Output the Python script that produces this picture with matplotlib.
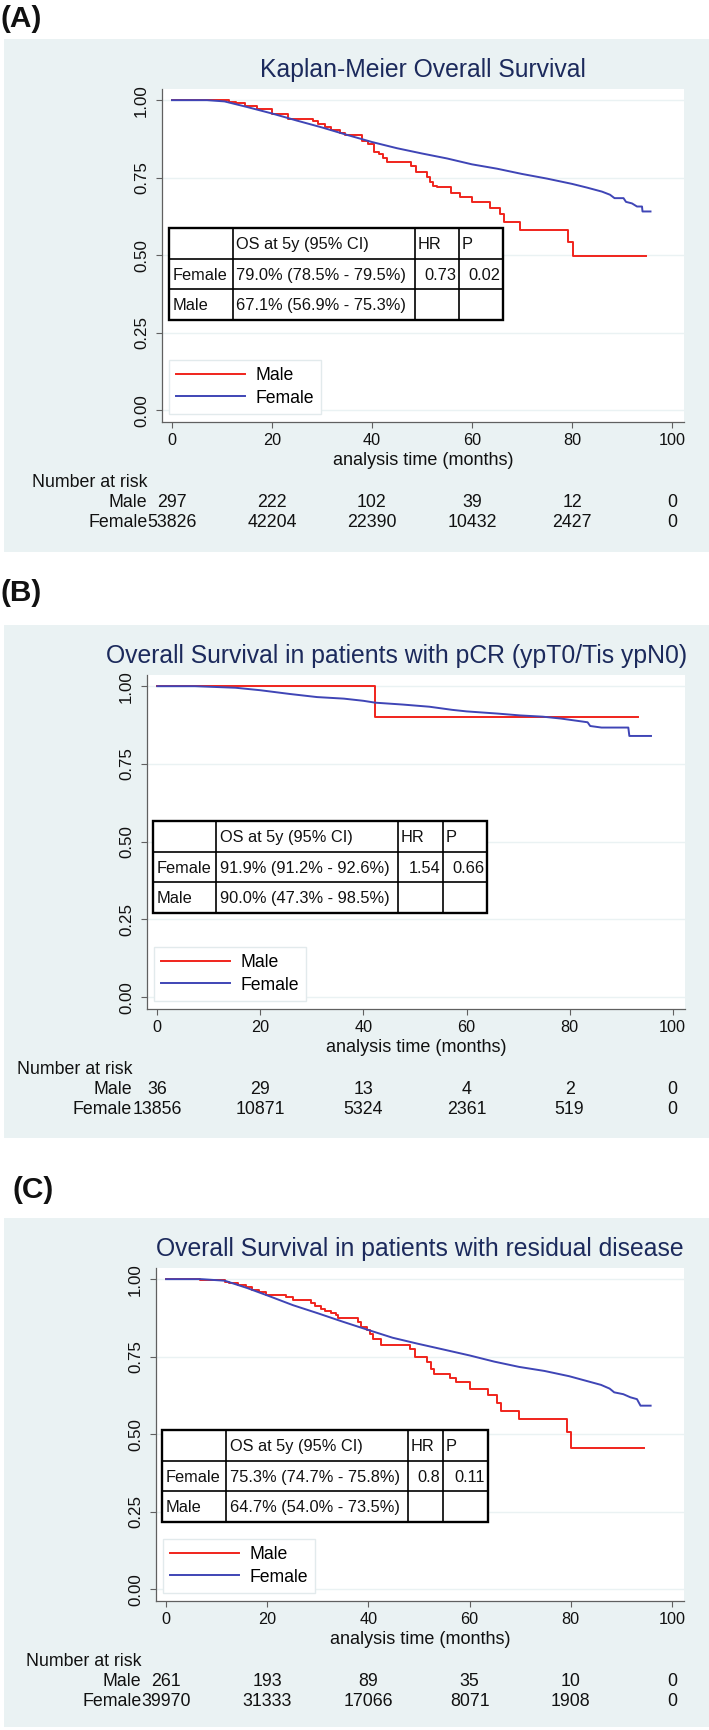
import matplotlib
matplotlib.use("Agg")
import matplotlib.pyplot as plt
from matplotlib.patches import Rectangle
from matplotlib.lines import Line2D

plt.rcParams['font.family'] = ['Liberation Sans', 'DejaVu Sans']

# ---------------- data ----------------
x_ticks = [0, 20, 40, 60, 80, 100]
y_ticks = [0.0, 0.25, 0.5, 0.75, 1.0]

# (A) all patients
male_t_a = [0, 11.4, 12.8, 14.6, 16.9, 20.0, 23.2, 28.2, 29.1, 30.5, 31.8, 33.6, 34.5,
            38.0, 39.1, 40.3, 41.3, 42.1, 43.0, 47.7, 48.8, 50.9, 51.6, 52.2, 52.9,
            55.8, 57.5, 59.9, 63.6, 65.6, 66.3, 69.6, 79.2, 80.1, 94.7]
male_s_a = [1.0, 0.995, 0.99, 0.982, 0.97, 0.955, 0.940, 0.932, 0.922, 0.913, 0.905, 0.895, 0.888,
            0.868, 0.857, 0.834, 0.826, 0.813, 0.800, 0.788, 0.767, 0.753, 0.736, 0.724, 0.719,
            0.701, 0.687, 0.670, 0.653, 0.632, 0.607, 0.582, 0.542, 0.498, 0.498]
female_t_a = [0, 7, 10.5, 15, 20, 25, 30, 35, 40, 45, 50, 55, 60, 65, 70, 75, 80, 83, 86,
              87.6, 88.5, 90.3, 90.8, 92, 93, 94, 94.1, 95.7]
female_s_a = [1.0, 1.0, 0.996, 0.978, 0.957, 0.934, 0.912, 0.888, 0.865, 0.845, 0.828, 0.812,
              0.793, 0.779, 0.762, 0.747, 0.730, 0.718, 0.705, 0.695, 0.684, 0.684, 0.672,
              0.667, 0.657, 0.657, 0.641, 0.641]
risk_male_a = [297, 222, 102, 39, 12, 0]
risk_female_a = [53826, 42204, 22390, 10432, 2427, 0]
table_a = [["", "OS at 5y (95% CI)", "HR", "P"],
           ["Female", "79.0% (78.5% - 79.5%)", "0.73", "0.02"],
           ["Male", "67.1% (56.9% - 75.3%)", "", ""]]

# (B) pCR
male_t_b = [0, 42.2, 93.2]
male_s_b = [1.0, 0.90, 0.90]
female_t_b = [0, 7.3, 15.2, 20, 25.7, 31, 36.2, 40, 42.3, 47.6, 52.8, 57.2, 60, 66, 70.4,
              74.8, 78.3, 80.9, 83.5, 84, 86.2, 91.4, 91.6, 95.8]
female_s_b = [1.0, 1.0, 0.995, 0.987, 0.975, 0.965, 0.960, 0.953, 0.947, 0.941, 0.934, 0.924,
              0.919, 0.912, 0.906, 0.902, 0.896, 0.890, 0.884, 0.872, 0.867, 0.867, 0.840, 0.840]
risk_male_b = [36, 29, 13, 4, 2, 0]
risk_female_b = [13856, 10871, 5324, 2361, 519, 0]
table_b = [["", "OS at 5y (95% CI)", "HR", "P"],
           ["Female", "91.9% (91.2% - 92.6%)", "1.54", "0.66"],
           ["Male", "90.0% (47.3% - 98.5%)", "", ""]]

# (C) residual disease
male_t_c = [0, 6.7, 11.6, 12.5, 14.3, 15.7, 17.0, 18.4, 19.7, 23.7, 25.1, 28.6, 29.5, 30.6,
            31.5, 32.7, 33.6, 34.0, 38.0, 38.5, 39.8, 40.3, 41.0, 42.5, 48.3, 49.2, 51.5,
            52.4, 53.0, 56.2, 57.3, 60.0, 63.6, 65.4, 66.2, 69.7, 79.2, 80.1, 94.4]
male_s_c = [1.0, 0.996, 0.991, 0.987, 0.981, 0.975, 0.966, 0.957, 0.950, 0.941, 0.933, 0.924,
            0.914, 0.905, 0.896, 0.890, 0.884, 0.874, 0.862, 0.847, 0.835, 0.823, 0.807, 0.789,
            0.774, 0.750, 0.734, 0.710, 0.695, 0.681, 0.667, 0.647, 0.625, 0.601, 0.576,
            0.550, 0.507, 0.456, 0.456]
female_t_c = [0, 7, 11.6, 16.1, 20.1, 25.1, 30, 34.9, 39.8, 44.8, 49.7, 54.6, 60, 64.9, 69.8,
              74.8, 79.7, 83.3, 86, 87.7, 88.6, 90.4, 91.8, 93.1, 93.8, 95.8]
female_s_c = [1.0, 1.0, 0.995, 0.971, 0.947, 0.916, 0.890, 0.863, 0.837, 0.811, 0.792, 0.774,
              0.754, 0.734, 0.717, 0.704, 0.687, 0.671, 0.659, 0.647, 0.635, 0.629, 0.619,
              0.613, 0.592, 0.592]
risk_male_c = [261, 193, 89, 35, 10, 0]
risk_female_c = [39970, 31333, 17066, 8071, 1908, 0]
table_c = [["", "OS at 5y (95% CI)", "HR", "P"],
           ["Female", "75.3% (74.7% - 75.8%)", "0.8", "0.11"],
           ["Male", "64.7% (54.0% - 73.5%)", "", ""]]

titles = ["Kaplan-Meier Overall Survival",
          "Overall Survival in patients with pCR (ypT0/Tis ypN0)",
          "Overall Survival in patients with residual disease"]
panel_labels = ["(A)", "(B)", "(C)"]

# ---------------- layout (pixels, origin top-left) ----------------
W, H = 709, 1730
BG = '#eaf2f3'
RED = '#f0241c'
BLUE = '#3f45b6'
NAVY = '#1c2a5c'
AXC = '#606060'

panels = [
    dict(bg=(4, 39, 709, 552), lab=(0, 19), ax=(162, 89, 684, 422),
         tab=(169, 228), cols=[64, 182, 44, 44], title_ha='center'),
    dict(bg=(4, 625, 709, 1138), lab=(0, 593), ax=(147, 675, 685, 1009),
         tab=(153, 821), cols=[63, 182, 45, 44], title_ha='right'),
    dict(bg=(4, 1218, 709, 1727), lab=(12, 1190), ax=(156, 1268, 684, 1601),
         tab=(162, 1430), cols=[64, 182, 35, 45], title_ha='center'),
]
series = [
    (male_t_a, male_s_a, female_t_a, female_s_a, risk_male_a, risk_female_a, table_a),
    (male_t_b, male_s_b, female_t_b, female_s_b, risk_male_b, risk_female_b, table_b),
    (male_t_c, male_s_c, female_t_c, female_s_c, risk_male_c, risk_female_c, table_c),
]


def fx(x):
    return x / W


def fy(y):
    return 1 - y / H


def draw_table(fig, left, top, cols, rows, row_h=30.7):
    total_w = sum(cols)
    total_h = row_h * len(rows)
    fig.add_artist(Rectangle((fx(left), fy(top + total_h)), total_w / W, total_h / H,
                             transform=fig.transFigure, facecolor='white',
                             edgecolor='black', lw=1.7, zorder=5))
    edges = [left]
    for c in cols:
        edges.append(edges[-1] + c)
    for e in edges[1:-1]:
        fig.add_artist(Line2D([fx(e), fx(e)], [fy(top), fy(top + total_h)],
                              transform=fig.transFigure, color='black', lw=1.2, zorder=6))
    for r in range(1, len(rows)):
        yy = top + r * row_h
        fig.add_artist(Line2D([fx(left), fx(left + total_w)], [fy(yy), fy(yy)],
                              transform=fig.transFigure, color='black', lw=1.2, zorder=6))
    for r, row in enumerate(rows):
        yc = top + r * row_h + row_h / 2 + 1
        for c, txt in enumerate(row):
            if not txt:
                continue
            if r > 0 and c >= 2:
                fig.text(fx(edges[c + 1] - 3), fy(yc), txt, ha='right', va='center',
                         fontsize=11.8, color='#111111', zorder=7)
            else:
                pad = 2.5 if c >= 2 else 3.5
                fig.text(fx(edges[c] + pad), fy(yc), txt, ha='left', va='center',
                         fontsize=11.8, color='#111111', zorder=7)


fig = plt.figure(figsize=(W / 100, H / 100), dpi=100)

for p, (mt, ms, ft, fs, rm, rf, tab), title, lab in zip(panels, series, titles, panel_labels):
    x0, y0, x1, y1 = p['bg']
    fig.add_artist(Rectangle((fx(x0), fy(y1)), (x1 - x0) / W, (y1 - y0) / H,
                             transform=fig.transFigure, facecolor=BG, edgecolor='none',
                             zorder=-1))
    fig.text(fx(p['lab'][0]), fy(p['lab'][1]), lab, ha='left', va='center',
             fontsize=21.5, fontweight='bold', color='#111111')

    l, t, r, b = p['ax']
    ax = fig.add_axes([fx(l), fy(b), (r - l) / W, (b - t) / H])
    ax.set_facecolor('white')
    h_m, = ax.plot(mt, ms, drawstyle='steps-post', color=RED, lw=1.4)
    h_f, = ax.plot(ft, fs, color=BLUE, lw=1.4)
    ax.set_xlim(-2.0, 102.4)
    ax.set_ylim(-0.038, 1.036)
    ax.set_xticks(x_ticks)
    ax.set_yticks(y_ticks)
    ax.set_yticklabels([f"{v:.2f}" for v in y_ticks])
    ax.yaxis.grid(True, color=BG, lw=1.0)
    ax.set_axisbelow(True)
    for s in ['top', 'right']:
        ax.spines[s].set_visible(False)
    for s in ['left', 'bottom']:
        ax.spines[s].set_color(AXC)
        ax.spines[s].set_linewidth(0.9)
    ax.tick_params(axis='x', length=4.3, width=0.8, color=AXC, labelsize=11.7, pad=3.5,
                   labelcolor='#111111')
    ax.tick_params(axis='y', length=4.3, width=0.8, color=AXC, labelsize=12.2, pad=5,
                   labelrotation=90, labelcolor='#111111')
    for lbl in ax.get_yticklabels():
        lbl.set_va('center')

    # title
    tx = 0.5 if p['title_ha'] == 'center' else 1.004
    ax.annotate(title, xy=(tx, 1), xycoords='axes fraction', xytext=(0, 13.7),
                textcoords='offset points', ha=p['title_ha'], va='center',
                fontsize=17.8, color=NAVY, annotation_clip=False)

    # x-axis title
    ax.annotate('analysis time (months)', xy=(0.5, 0), xycoords='axes fraction',
                xytext=(0, -27.4), textcoords='offset points', ha='center', va='center',
                fontsize=13, color='#111111', annotation_clip=False)

    # legend
    ax_w = r - l
    ax_h = b - t
    ax.legend([h_m, h_f], ['Male', 'Female'], loc='lower left',
              bbox_to_anchor=(7 / ax_w, 8 / ax_h), borderaxespad=0, fontsize=12.7,
              handlelength=3.9, handletextpad=0.57, borderpad=0.42, labelspacing=0.3,
              fancybox=False, edgecolor='#e2eaec', framealpha=1, facecolor='white')

    # number at risk
    rows = [('Number at risk', None, 43.9), ('Male', rm, 58.3), ('Female', rf, 72.7)]
    for name, vals, off in rows:
        ax.annotate(name, xy=(-4.9, 0), xycoords=('data', 'axes fraction'),
                    xytext=(0, -off), textcoords='offset points', ha='right', va='center',
                    fontsize=12.8, color='#111111', annotation_clip=False)
        if vals is None:
            continue
        for xt, v in zip(x_ticks, vals):
            ax.annotate(str(v), xy=(xt, 0), xycoords=('data', 'axes fraction'),
                        xytext=(0, -off), textcoords='offset points', ha='center',
                        va='center', fontsize=12.8, color='#111111', annotation_clip=False)

    draw_table(fig, p['tab'][0], p['tab'][1], p['cols'], tab)

fig.savefig('out.png', dpi=100)
